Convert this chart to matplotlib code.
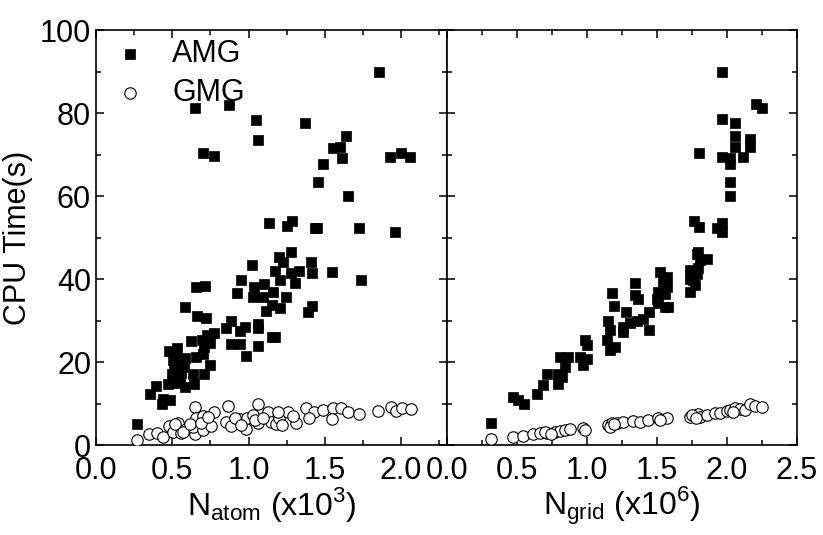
import numpy as np
import matplotlib
matplotlib.use("Agg")
import matplotlib.pyplot as plt
from matplotlib.ticker import MultipleLocator, FormatStrFormatter

# ---- data ----
# left panel: CPU time vs number of atoms (x10^3)
atom_amg_x = [1.852, 0.647, 0.871, 1.048, 1.063, 1.373, 0.704, 0.773, 1.641, 1.553,
              1.599, 1.612, 1.488, 1.455, 1.652, 1.926, 2.000, 2.061, 1.137, 1.253,
              1.283, 1.433, 1.451, 1.725, 1.961, 1.736, 1.545, 1.410, 1.414, 1.333,
              1.275, 1.198, 1.224, 1.172, 1.279, 1.207, 1.307, 1.020, 0.948, 0.922,
              1.035, 1.103, 1.031, 1.096, 1.157, 1.246, 1.116, 1.203, 1.155, 1.414,
              1.388, 0.654, 0.712, 0.586, 0.662, 0.719, 0.884, 0.852, 0.941, 0.978,
              1.063, 1.065, 1.152, 1.172, 1.059, 0.884, 0.946, 0.982, 0.771, 0.728,
              0.625, 0.695, 0.745, 0.710, 0.479, 0.534, 0.523, 0.582, 0.654, 0.701,
              0.750, 0.512, 0.575, 0.636, 0.710, 0.495, 0.549, 0.475, 0.538, 0.584,
              0.643, 0.394, 0.353, 0.436, 0.488, 0.431, 0.266, 0.505, 0.570, 0.555]
atom_amg_y = [89.9, 81.2, 82.0, 78.4, 73.6, 77.5, 70.4, 69.6, 74.4, 71.6,
              71.9, 69.2, 67.8, 63.3, 60.1, 69.4, 70.4, 69.5, 53.4, 52.8,
              53.9, 52.2, 52.4, 52.3, 51.4, 39.7, 41.7, 44.2, 41.5, 42.0,
              46.5, 45.4, 44.1, 41.9, 41.4, 39.8, 39.1, 43.3, 39.7, 36.7,
              38.0, 38.8, 35.7, 35.7, 36.9, 35.7, 32.3, 33.1, 33.7, 33.6,
              32.0, 38.1, 38.3, 33.3, 31.1, 30.7, 30.0, 28.2, 27.4, 28.4,
              29.2, 28.2, 26.0, 26.1, 23.8, 24.4, 24.4, 21.5, 27.0, 26.6,
              25.1, 25.2, 24.6, 23.6, 22.6, 23.4, 21.2, 21.0, 21.2, 22.0,
              19.4, 19.2, 18.8, 17.2, 17.0, 17.1, 16.4, 14.6, 15.0, 14.0,
              14.6, 14.3, 12.3, 11.1, 10.8, 10.0, 5.1, 20.6, 20.8, 17.4]

atom_gmg_x = [0.266, 0.346, 0.397, 0.440, 0.477, 0.505, 0.538, 0.560, 0.593, 0.647,
              0.652, 0.658, 0.702, 0.636, 0.702, 0.756, 0.771, 0.865, 0.854, 0.887,
              0.941, 0.985, 0.991, 1.028, 1.065, 1.061, 1.126, 1.148, 1.180, 1.200,
              1.220, 1.257, 1.311, 1.377, 1.431, 1.399, 1.486, 1.551, 1.547, 1.606,
              1.649, 1.725, 1.845, 1.932, 1.965, 2.004, 2.063, 1.190, 0.516, 0.571,
              0.614, 0.690, 0.734, 0.909, 0.953, 1.040, 1.094, 1.290]
atom_gmg_y = [1.2, 2.6, 2.8, 2.0, 4.6, 3.2, 5.2, 3.0, 3.8, 9.1,
              2.6, 6.6, 7.0, 4.4, 3.6, 4.6, 8.0, 9.4, 5.5, 4.6,
              6.2, 3.8, 6.4, 7.2, 10.0, 5.2, 8.0, 5.6, 5.0, 6.5,
              4.8, 8.0, 5.4, 9.0, 7.9, 6.4, 8.4, 9.0, 6.2, 9.0,
              8.0, 7.4, 8.2, 9.2, 8.2, 9.0, 8.7, 8.0, 5.0, 3.2,
              5.0, 5.2, 6.8, 6.4, 4.8, 6.0, 6.4, 6.9]

# right panel: CPU time vs number of grid points (x10^6)
grid_amg_x = [0.312, 0.474, 0.510, 0.552, 0.640, 0.688, 0.712, 0.795, 0.795, 0.807,
              0.866, 0.843, 0.820, 0.950, 0.998, 0.986, 0.998, 0.974, 1.152, 1.164,
              1.140, 1.164, 1.200, 1.176, 1.193, 1.279, 1.255, 1.260, 1.307, 1.355,
              1.402, 1.445, 1.445, 1.343, 1.343, 1.367, 1.521, 1.545, 1.510, 1.557,
              1.510, 1.557, 1.498, 1.569, 1.569, 1.581, 1.736, 1.736, 1.736, 1.760,
              1.783, 1.783, 1.807, 1.855, 1.795, 1.795, 1.771, 1.767, 1.800, 1.926,
              1.967, 1.967, 1.802, 1.967, 2.021, 2.021, 2.117, 2.021, 2.021, 1.967,
              2.057, 2.057, 2.164, 2.164, 2.057, 1.967, 2.205, 2.248]
grid_amg_y = [5.2, 11.6, 10.8, 9.9, 12.4, 14.4, 17.2, 14.8, 17.2, 21.2,
              21.2, 18.8, 16.4, 21.2, 20.8, 25.2, 24.0, 19.4, 30.0, 27.6,
              25.2, 22.8, 23.6, 36.7, 33.4, 32.0, 28.4, 27.2, 29.3, 30.0,
              30.4, 32.0, 27.6, 39.0, 36.1, 35.3, 41.7, 39.3, 36.9, 36.5,
              34.1, 33.3, 35.3, 40.5, 38.0, 33.2, 42.1, 40.1, 36.9, 39.7,
              41.3, 46.1, 44.5, 44.9, 46.5, 42.7, 38.5, 53.9, 52.5, 52.3,
              53.4, 51.3, 70.4, 69.5, 69.1, 67.7, 69.5, 63.3, 60.1, 78.5,
              77.5, 74.4, 73.7, 71.9, 71.7, 89.9, 82.1, 81.2]

grid_gmg_x = [0.312, 0.474, 0.545, 0.617, 0.664, 0.712, 0.771, 0.807, 0.843, 0.879,
              0.974, 0.986, 1.152, 1.176, 1.212, 1.260, 1.331, 1.379, 1.438, 1.510,
              1.569, 1.521, 1.736, 1.795, 1.807, 1.855, 1.914, 1.950, 1.998, 2.021,
              2.057, 2.093, 2.129, 2.164, 2.200, 2.248, 2.045, 1.164, 1.190, 0.700,
              0.740, 1.750, 1.780]
grid_gmg_y = [1.4, 2.0, 2.2, 2.6, 2.8, 3.0, 3.2, 3.4, 3.6, 3.8,
              4.0, 3.6, 4.8, 5.2, 5.4, 5.6, 5.8, 5.6, 6.0, 6.4,
              6.4, 6.0, 6.8, 7.4, 6.8, 7.2, 7.6, 7.6, 8.2, 8.4,
              9.0, 8.7, 8.4, 10.0, 9.4, 9.2, 8.0, 4.4, 5.0, 3.2,
              2.6, 7.2, 6.4]

plt.rcParams['font.family'] = ['Liberation Sans Narrow', 'Liberation Sans', 'DejaVu Sans']
plt.rcParams['mathtext.fontset'] = 'custom'
plt.rcParams['mathtext.rm'] = 'Liberation Sans Narrow'

fig = plt.figure(figsize=(8.23, 5.35), dpi=100)
ax1 = fig.add_axes([0.1166, 0.1682, 0.4265, 0.7757])
ax2 = fig.add_axes([0.5431, 0.1682, 0.4253, 0.7757])

sq = dict(marker='s', s=42, c='black', edgecolors='black', linewidths=0.5, zorder=3)
circ = dict(marker='o', s=68, facecolors='white', edgecolors='black', linewidths=0.8, zorder=4)

ax1.scatter(atom_amg_x, atom_amg_y, label='AMG', **sq)
ax1.scatter(atom_gmg_x, atom_gmg_y, label='GMG', **circ)
ax2.scatter(grid_amg_x, grid_amg_y, **sq)
ax2.scatter(grid_gmg_x, grid_gmg_y, **circ)

ax1.set_xlim(0, 2.3)
ax2.set_xlim(0, 2.5)

for ax in (ax1, ax2):
    ax.set_ylim(0, 100)
    ax.xaxis.set_major_locator(MultipleLocator(0.5))
    ax.xaxis.set_minor_locator(MultipleLocator(0.25))
    ax.yaxis.set_major_locator(MultipleLocator(20))
    ax.yaxis.set_minor_locator(MultipleLocator(10))
    ax.xaxis.set_major_formatter(FormatStrFormatter('%.1f'))
    ax.tick_params(which='both', direction='in', top=True, right=True,
                   width=1.1, labelsize=22)
    ax.tick_params(which='major', length=6)
    ax.tick_params(which='minor', length=3.5)
    ax.tick_params(axis='x', pad=8)
    for sp in ax.spines.values():
        sp.set_linewidth(1.2)

ax1.set_xticks([0.0, 0.5, 1.0, 1.5, 2.0])
ax2.tick_params(labelleft=False)

ax1.set_ylabel('CPU Time(s)', fontsize=22, labelpad=5)
ax1.set_xlabel(r'N$_{\mathregular{atom}}$ (x10$^{\mathregular{3}}$)', fontsize=23, labelpad=-1)
ax2.set_xlabel(r'N$_{\mathregular{grid}}$ (x10$^{\mathregular{6}}$)', fontsize=23, labelpad=-1)

ax1.legend(loc='upper left', frameon=False, fontsize=22, handlelength=1.6,
           handletextpad=0.6, labelspacing=0.3, borderpad=0.0,
           borderaxespad=0.3, scatterpoints=1)

fig.savefig('out.png', dpi=100)
